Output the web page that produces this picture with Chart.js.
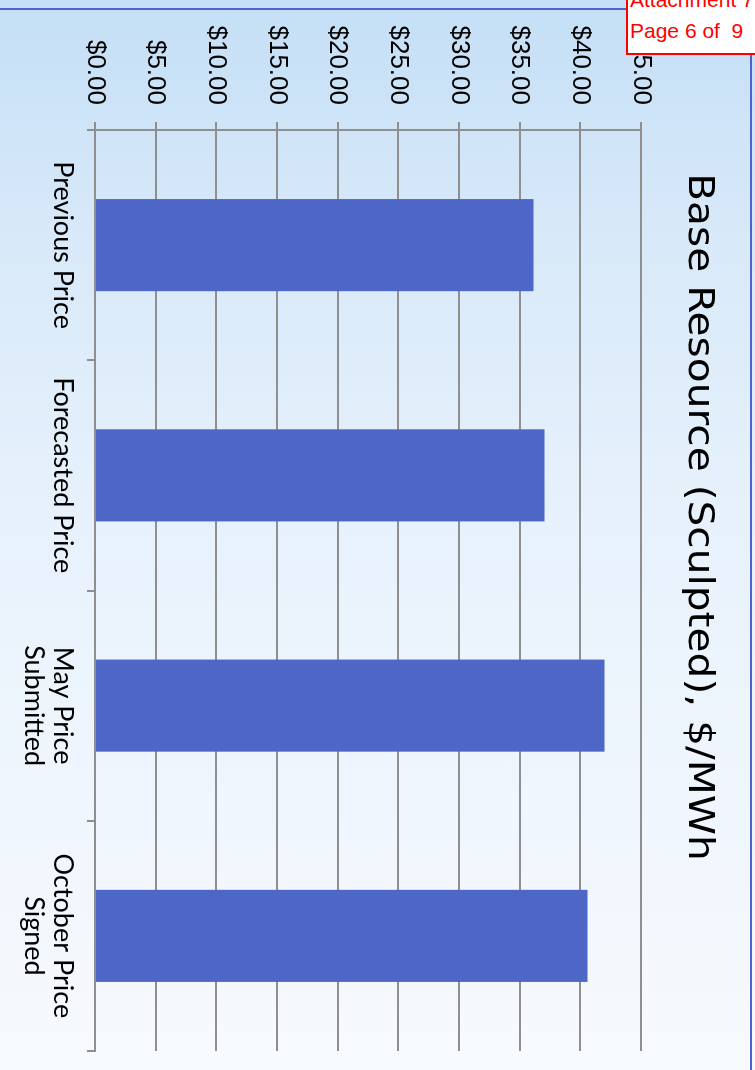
<!DOCTYPE html>
<html>
<head>
<meta charset="utf-8">
<title>Base Resource (Sculpted), $/MWh</title>
<script src="https://cdn.jsdelivr.net/npm/chart.js@4.4.0/dist/chart.umd.min.js"></script>
<style>
  html, body { margin: 0; padding: 0; }
  body {
    width: 755px;
    height: 1070px;
    overflow: hidden;
    position: relative;
    background: linear-gradient(180deg, #c4dff6 0%, #d8e9f9 22%, #e8f2fc 50%, #f7fafe 100%);
    font-family: "Liberation Sans", Arial, sans-serif;
  }
  #frameTop { position: absolute; left: 0; top: 8px; width: 752px; height: 2px; background: #4d62cc; }
  #frameRight { position: absolute; left: 750px; top: 8px; width: 2px; height: 1062px; background: #4d62cc; }
  /* chart is drawn landscape, then turned a quarter clockwise */
  #chartBox {
    position: absolute; left: 0; top: 0;
    width: 1087px; height: 755px;
    transform-origin: 0 0;
    transform: translate(755px, -17px) rotate(90deg);
  }
  #stamp {
    position: absolute; left: 626px; top: -20px;
    width: 150px; height: 71px;
    border: 2px solid #ff0000; background: #fff;
  }
  .stampLine {
    position: absolute; left: 630px;
    color: #ff0000; font-size: 21px; line-height: 21px; white-space: nowrap;
  }
</style>
</head>
<body>
<div id="frameTop"></div>
<div id="frameRight"></div>
<div id="chartBox"><canvas id="priceChart" width="1087" height="755"></canvas></div>
<div id="stamp"></div>
<div class="stampLine" style="top:-11px">Attachment 7</div>
<div class="stampLine" style="top:20px">Page 6 of&nbsp; 9</div>

<script>
const chartTitle = 'Base Resource (Sculpted), $/MWh';
const categories = ['Previous Price', 'Forecasted Price', ['May Price', 'Submitted'], ['October Price', 'Signed']];
const basePrices = [36.15, 37.05, 42.0, 40.6];
const priceTicks = ['$0.00', '$5.00', '$10.00', '$15.00', '$20.00', '$25.00', '$30.00', '$35.00', '$40.00', '$45.00'];

const gridGray = '#8f8f8f';

// title glyphs are wider than the font, so draw it stretched
const titlePlugin = {
    id: 'stretchedTitle',
    afterDraw(chart) {
        const ctx = chart.ctx;
        ctx.save();
        ctx.font = '36px "DejaVu Sans"';
        ctx.fillStyle = '#000';
        ctx.textAlign = 'center';
        ctx.textBaseline = 'middle';
        ctx.translate(534, 57);
        ctx.scale(1.13, 1);
        ctx.fillText(chartTitle, 0, 0);
        ctx.restore();
    }
};

const ctx = document.getElementById('priceChart').getContext('2d');
new Chart(ctx, {
    type: 'bar',
    data: {
        labels: categories,
        datasets: [{
            label: 'Base Resource',
            data: basePrices,
            backgroundColor: '#4e66c6',
            borderWidth: 0,
            barPercentage: 0.4,
            categoryPercentage: 1
        }]
    },
    options: {
        responsive: false,
        animation: false,
        layout: { padding: { top: 114, right: 19, bottom: 0, left: 0 } },
        plugins: {
            legend: { display: false },
            title: { display: false },
            tooltip: { enabled: false }
        },
        scales: {
            x: {
                offset: true,
                grid: { drawOnChartArea: false, color: gridGray, lineWidth: 2, tickLength: 8, offset: true },
                border: { color: gridGray, width: 2 },
                ticks: {
                    color: '#000',
                    padding: 9,
                    maxRotation: 0,
                    font: { family: 'Lato', size: 27, lineHeight: 1.1 }
                },
                afterFit(scale) { scale.height = 95; }
            },
            y: {
                min: 0,
                max: 45,
                ticks: {
                    stepSize: 5,
                    color: '#000',
                    padding: 17,
                    font: { family: '"Liberation Sans"', size: 26 },
                    callback: (value, index) => priceTicks[index]
                },
                grid: { color: gridGray, lineWidth: 2, tickLength: 8 },
                border: { color: gridGray, width: 2 },
                afterFit(scale) { scale.width = 147; }
            }
        }
    },
    plugins: [titlePlugin]
});
</script>
</body>
</html>
